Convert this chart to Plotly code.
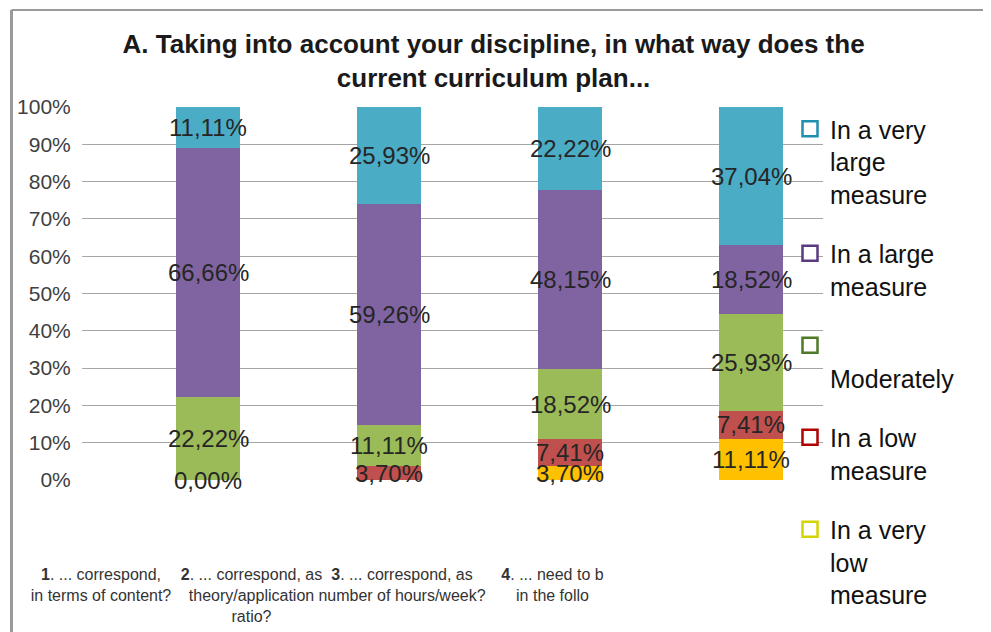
import plotly.graph_objects as go

categories = ["c1", "c2", "c3", "c4"]
cat_labels = [
    "<b>1</b>. ... correspond,<br>in terms of content?",
    "<b>2</b>. ... correspond, as<br>theory/application<br>ratio?",
    "<b>3</b>. ... correspond, as<br>number of hours/week?",
    "<b>4</b>. ... need to b<br>in the follo",
]
very_low = [None, None, 3.70, 11.11]
low = [0.00, 3.70, 7.41, 7.41]
moderately = [22.22, 11.11, 18.52, 25.93]
large = [66.66, 59.26, 48.15, 18.52]
very_large = [11.11, 25.93, 22.22, 37.04]

series_names = ["In a very low measure", "In a low measure", "Moderately",
                "In a large measure", "In a very large measure"]
legend_texts = ["In a very<br>low<br>measure", "In a low<br>measure", " <br>Moderately",
                "In a large<br>measure", "In a very<br>large<br>measure"]
series_values = [very_low, low, moderately, large, very_large]
colors = ["#FFC000", "#C0504D", "#9BBB59", "#8064A2", "#4BACC6"]
edge_colors = ["#D4D400", "#B00000", "#4F7A28", "#5A3A80", "#1F8FB0"]
y_ticks = [0, 10, 20, 30, 40, 50, 60, 70, 80, 90, 100]

W, H = 991, 632
L, R, T, B = 74, 176, 99, 160
pw, ph = W - L - R, H - T - B

def px_x(p):
    return (p - L) / pw

def px_y(p):
    return (H - B - p) / ph

BAR_C0, BAR_STEP = 200, 181     # pixel centre of first bar, spacing
LAB_C0, LAB_STEP = 93, 150.5    # pixel centre of first category label, spacing

fig = go.Figure()
xs = list(range(len(categories)))
for name, vals, col in zip(series_names, series_values, colors):
    fig.add_trace(go.Bar(
        x=xs, y=[v if v is not None else 0 for v in vals], name=name,
        marker=dict(color=col, line=dict(width=0)), width=0.35,
        showlegend=False, hoverinfo="skip"))

# invisible carrier for the category-label axis
fig.add_trace(go.Scatter(x=xs, y=[0] * len(xs), xaxis="x2", mode="markers",
                         marker=dict(opacity=0), showlegend=False, hoverinfo="skip"))

# data labels centred in each segment
annotations = []
base = [0.0] * len(categories)
for vals in series_values:
    for i, v in enumerate(vals):
        if v is None:
            continue
        annotations.append(dict(
            x=i, y=base[i] + v / 2, xref="x", yref="y",
            text=f"{v:.2f}".replace(".", ",") + "%", showarrow=False,
            font=dict(family="Liberation Sans, Arial", size=24, color="#262626")))
        base[i] += v

# legend entries (top to bottom)
for idx in [4, 3, 2, 1, 0]:
    fig.add_trace(go.Scatter(
        x=[None], y=[None], mode="markers", name=legend_texts[idx],
        legendgroup=series_names[idx],
        marker=dict(symbol="square", size=15, color="white",
                    line=dict(color=edge_colors[idx], width=2.5)),
        showlegend=True))

fig.update_layout(
    width=W, height=H,
    margin=dict(l=L, r=R, t=T, b=B, autoexpand=False),
    paper_bgcolor="white", plot_bgcolor="white",
    barmode="stack", bargap=0,
    title=dict(
        text="<b>A. Taking into account your discipline, in what way does the<br>current curriculum plan...</b>",
        x=0.49, xanchor="center", y=1 - 45 / H, yanchor="top",
        font=dict(family="Liberation Sans, Arial", size=26, color="#1a1a1a")),
    xaxis=dict(range=[(L - BAR_C0) / BAR_STEP, (L + pw - BAR_C0) / BAR_STEP], showticklabels=False,
               showgrid=False, zeroline=False, showline=False, fixedrange=True),
    xaxis2=dict(overlaying="x", anchor="y", side="bottom",
                range=[(L - LAB_C0) / LAB_STEP, (L + pw - LAB_C0) / LAB_STEP],
                tickmode="array", tickvals=xs, ticktext=cat_labels, tickangle=0,
                showgrid=False, zeroline=False, showline=False,
                ticks="outside", ticklen=80, tickcolor="rgba(0,0,0,0)",
                tickfont=dict(family="Liberation Sans, Arial", size=16, color="#333333")),
    yaxis=dict(range=[0, 100], tickmode="array", tickvals=y_ticks,
               ticktext=[f"{t}%" for t in y_ticks],
               showgrid=True, gridcolor="#A6A6A6", gridwidth=1,
               zeroline=False, showline=False,
               ticks="outside", ticklen=6, tickcolor="rgba(0,0,0,0)",
               tickfont=dict(family="Liberation Sans, Arial", size=21, color="#404040")),
    legend=dict(x=px_x(782), xanchor="left", y=px_y(98), yanchor="top",
                traceorder="grouped", tracegroupgap=24, valign="top", maxheight=620,
                font=dict(family="Liberation Sans, Arial", size=25, color="#111111"),
                bgcolor="rgba(0,0,0,0)", itemclick=False),
    annotations=annotations,
    shapes=[
        dict(type="line", xref="paper", yref="paper", x0=px_x(3.5), x1=px_x(W + 2),
             y0=px_y(2), y1=px_y(2), line=dict(color="#9A9A9A", width=2)),
        dict(type="line", xref="paper", yref="paper", x0=px_x(3.5), x1=px_x(3.5),
             y0=px_y(2), y1=px_y(H + 5), line=dict(color="#9A9A9A", width=3)),
        dict(type="line", xref="paper", yref="paper", x0=px_x(989), x1=px_x(989),
             y0=px_y(2), y1=px_y(H + 5), line=dict(color="#DADADA", width=1)),
    ],
)

fig.write_html("out.html")
